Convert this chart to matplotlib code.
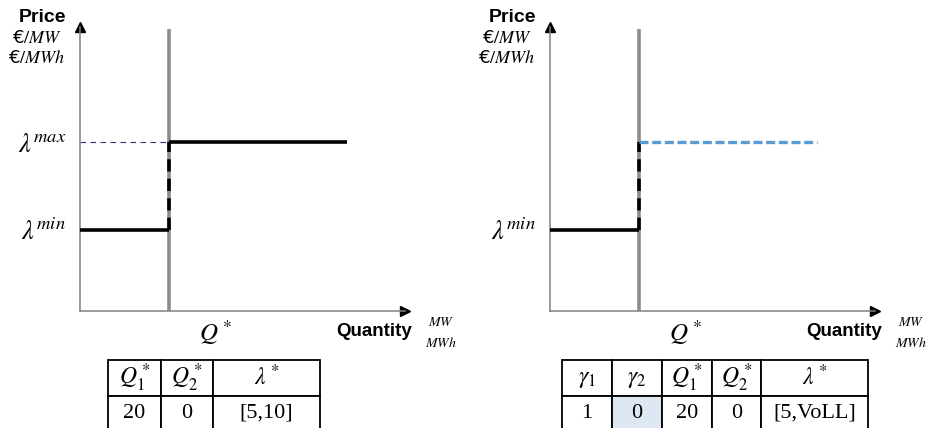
import matplotlib
matplotlib.use("Agg")
import matplotlib.pyplot as plt

plt.rcParams['mathtext.fontset'] = 'stix'

# Step offer curve and market clearing
q_star = 20          # cleared quantity
q_end = 60           # end of the offer curve
lam_min = 5          # lower price bound
lam_max = 10         # upper price bound (left case)
voll = 10            # price cap drawn for the scarcity case

left_head = [r'$Q_1^*$', r'$Q_2^*$', r'$\lambda^*$']
left_vals = ['20', '0', '[5,10]']
right_head = [r'$\gamma_1$', r'$\gamma_2$', r'$Q_1^*$', r'$Q_2^*$', r'$\lambda^*$']
right_vals = ['1', '0', '20', '0', '[5,VoLL]']

W, H = 933, 428
fig = plt.figure(figsize=(W / 100, H / 100), dpi=100)


def rect(x, y, w, h):
    # pixel box (top-left origin) -> figure fraction
    return [x / W, 1 - (y + h) / H, w / W, h / H]


def pt(x, y):
    return x / W, 1 - y / H


def panel(dx, scarcity):
    ax = fig.add_axes(rect(80 + dx, 27, 325, 284))
    ax.set_xlim(0, 73)
    ax.set_ylim(0.4, 16.54)
    for s in ['top', 'right']:
        ax.spines[s].set_visible(False)
    for s in ['left', 'bottom']:
        ax.spines[s].set_color('#808080')
        ax.spines[s].set_linewidth(1.1)
    ax.plot(1, 0, '>', color='k', ms=7, transform=ax.transAxes, clip_on=False)
    ax.plot(0, 1, '^', color='k', ms=7, transform=ax.transAxes, clip_on=False)
    ax.set_xticks([])

    # market clearing quantity
    ax.plot([q_star, q_star], [0.4, 16.45], color='#8c8c8c', lw=2.6,
            solid_capstyle='butt', zorder=1, clip_on=False)

    ax.plot([0, q_star], [lam_min, lam_min], color='k', lw=2.6,
            solid_capstyle='butt', zorder=3)
    ax.plot([q_star, q_star], [lam_min, lam_max], color='k', lw=2.6,
            dashes=(3.4, 2.0), zorder=3)
    if scarcity:
        ax.plot([q_star, q_end], [voll, voll], color='#5b9bd5', lw=2.4,
                dashes=(2.7, 1.1), zorder=3)
        ax.set_yticks([lam_min])
        ax.set_yticklabels([r'$\lambda^{min}$'])
    else:
        ax.plot([0, q_star], [lam_max, lam_max], color='#2e2e80', lw=0.8,
                dashes=(5, 4), zorder=2)
        ax.plot([q_star, q_end], [lam_max, lam_max], color='k', lw=2.6,
                solid_capstyle='butt', zorder=3)
        ax.set_yticks([lam_min, lam_max])
        ax.set_yticklabels([r'$\lambda^{min}$', r'$\lambda^{max}$'])
    ax.tick_params(axis='y', length=0, pad=10, labelsize=19)

    fig.text(*pt(66 + dx, 17), 'Price', ha='right', va='center',
             fontsize=14, fontweight='bold', family='Liberation Sans')
    fig.text(*pt(37 + dx, 38), r'€$/MW$', ha='center', va='center', fontsize=13)
    fig.text(*pt(37 + dx, 58), r'€$/MWh$', ha='center', va='center', fontsize=13)
    fig.text(*pt(215 + dx, 333), r'$Q^*$', ha='center', va='center', fontsize=18)
    fig.text(*pt(336 + dx, 331), 'Quantity', ha='left', va='center',
             fontsize=13.5, fontweight='bold', family='Liberation Sans')
    fig.text(*pt(441 + dx, 322), r'$MW$', ha='center', va='center', fontsize=10)
    fig.text(*pt(441 + dx, 343), r'$MWh$', ha='center', va='center', fontsize=10)
    return ax


def result_table(box, widths, head, vals, shaded=None):
    tax = fig.add_axes(rect(*box))
    tax.axis('off')
    tb = tax.table(cellText=[head, vals], colWidths=widths, cellLoc='center',
                   bbox=[0, 0, 1, 1])
    tb.auto_set_font_size(False)
    for (r, c), cell in tb.get_celld().items():
        cell.set_linewidth(1.3)
        cell.set_edgecolor('k')
        cell.get_text().set_fontsize(17 if r == 0 else 16)
        if r == 1:
            cell.get_text().set_fontfamily('Liberation Serif')
        if shaded is not None and r == 1 and c == shaded:
            cell.set_facecolor('#dde8f4')
    return tax


panel(0, False)
panel(470, True)

result_table((108, 360, 212, 71), [53, 52, 107], left_head, left_vals)
result_table((562, 360, 306, 71), [50, 50, 50, 49, 107], right_head, right_vals,
             shaded=1)

fig.savefig('out.png', dpi=100)
